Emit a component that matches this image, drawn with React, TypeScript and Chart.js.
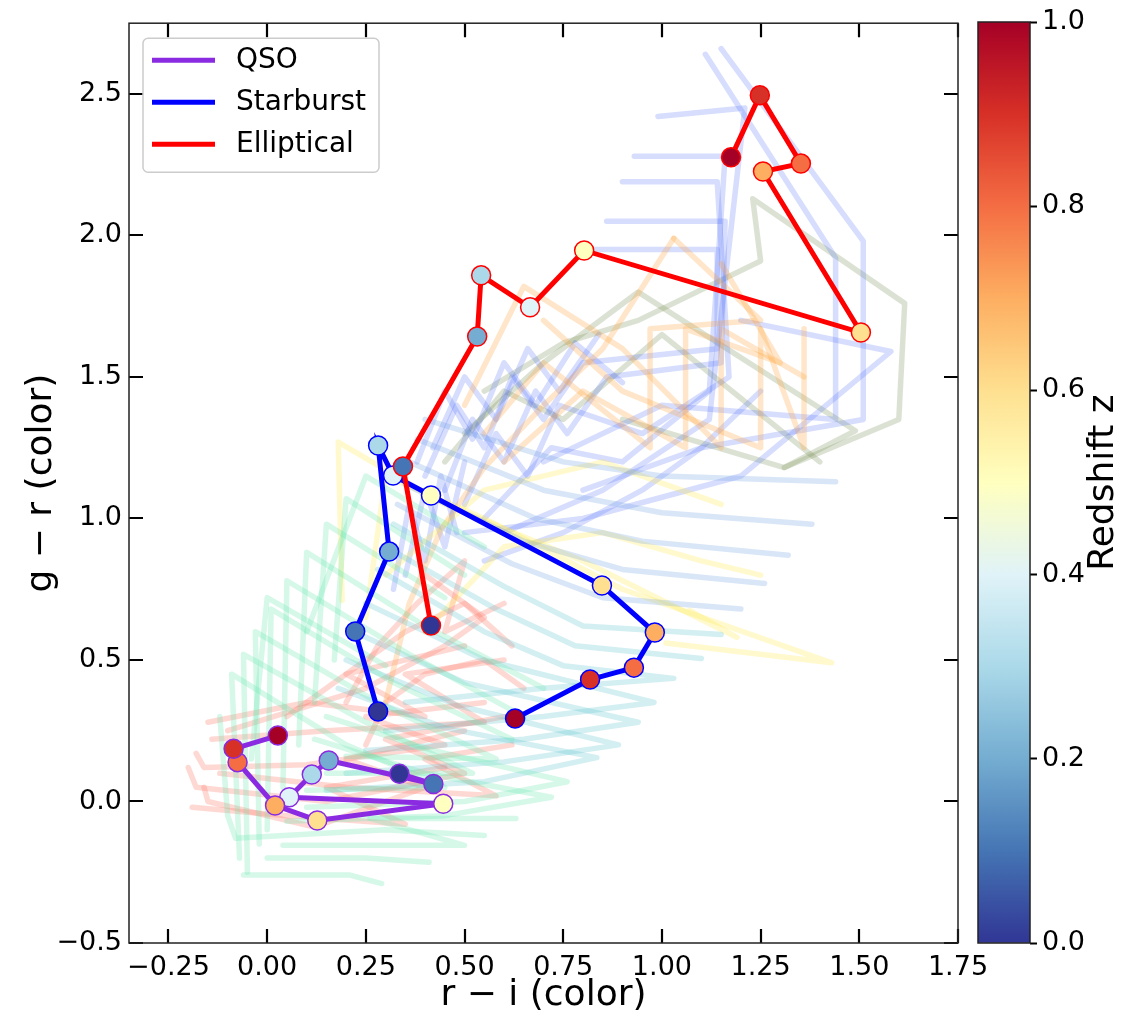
import React, { useEffect, useRef } from 'react';
import { Chart, registerables } from 'chart.js';

Chart.register(...registerables);

// ---------- data ----------
const redshift = [0, 0.1, 0.2, 0.3, 0.4, 0.5, 0.6, 0.7, 0.8, 0.9, 1.0];

const qsoX = [0.335, 0.421, 0.156, 0.113, 0.056, 0.446, 0.127, 0.02, -0.075, -0.085, 0.027];
const qsoY = [0.098, 0.062, 0.145, 0.095, 0.015, -0.008, -0.067, -0.014, 0.139, 0.186, 0.233];

const starX = [0.281, 0.223, 0.309, 0.281, 0.319, 0.415, 0.848, 0.982, 0.929, 0.818, 0.628];
const starY = [0.318, 0.601, 0.883, 1.258, 1.152, 1.081, 0.763, 0.597, 0.473, 0.431, 0.293];

const ellX = [0.415, 0.344, 0.532, 0.542, 0.666, 0.803, 1.504, 1.256, 1.352, 1.248, 1.175];
const ellY = [0.622, 1.184, 1.643, 1.859, 1.746, 1.947, 1.657, 2.226, 2.254, 2.495, 2.276];

const seriesNames = ['QSO', 'Starburst', 'Elliptical'];

const xTicks = [-0.25, 0, 0.25, 0.5, 0.75, 1.0, 1.25, 1.5, 1.75];
const yTicks = [-0.5, 0, 0.5, 1.0, 1.5, 2.0, 2.5];
const cbTicks = [0, 0.2, 0.4, 0.6, 0.8, 1.0];

// faint background tracks (r-i, g-r)
const bgMint: number[][][] = [
  [[-0.07, -0.2], [-0.09, 0.45], [0.2, 0.2], [0.45, 0.05], [0.1, 0.04]],
  [[-0.05, -0.25], [-0.06, 0.52], [0.25, 0.28], [0.52, 0.1], [0.15, 0.1]],
  [[-0.02, -0.15], [-0.03, 0.6], [0.28, 0.35], [0.58, 0.15], [0.2, 0.16]],
  [[0.0, -0.1], [0.01, 0.68], [0.32, 0.42], [0.62, 0.22]],
  [[0.04, 0.05], [0.05, 0.78], [0.36, 0.52], [0.65, 0.3]],
  [[0.08, 0.2], [0.1, 0.88], [0.4, 0.62], [0.7, 0.4]],
  [[0.12, 0.35], [0.15, 0.98], [0.45, 0.72]],
  [[0.17, 0.5], [0.2, 1.07], [0.5, 0.8]],
  [[0.1, 0.6], [0.25, 1.15], [0.55, 0.9]],
  [[-0.04, 0.15], [0.0, 0.72], [0.3, 0.48]],
  [[-0.06, -0.26], [0.21, -0.26], [0.29, -0.29]],
  [[0.0, -0.2], [0.25, -0.2], [0.41, -0.215]],
  [[0.04, -0.155], [0.5, -0.155], [0.26, -0.06], [0.63, -0.06]],
  [[-0.12, 0.3], [-0.1, -0.05], [-0.08, -0.13], [0.3, -0.1], [0.55, -0.12]],
  [[0.12, 0.22], [0.4, 0.1], [0.72, 0.015], [0.45, -0.05], [0.05, -0.07]],
  [[0.15, 0.3], [0.42, 0.18], [0.76, 0.07], [0.5, 0.0], [0.1, -0.02]],
];
const bgTeal: number[][][] = [
  [[0.32, 0.98], [0.6, 0.76], [0.8, 0.62], [1.15, 0.59]],
  [[0.3, 0.9], [0.58, 0.68], [0.78, 0.55], [1.1, 0.505]],
  [[0.28, 0.82], [0.55, 0.6], [0.75, 0.48], [1.03, 0.435], [0.7, 0.4], [0.35, 0.35]],
  [[0.25, 0.7], [0.55, 0.5], [0.98, 0.35], [0.7, 0.3], [0.3, 0.25]],
  [[0.22, 0.6], [0.5, 0.42], [0.94, 0.28], [0.65, 0.22], [0.25, 0.18]],
  [[0.2, 0.5], [0.48, 0.34], [0.89, 0.2], [0.6, 0.14], [0.2, 0.1]],
  [[0.18, 0.4], [0.45, 0.26], [0.835, 0.155], [0.55, 0.07], [0.15, 0.04]],
];
const bgLightBlue: number[][][] = [
  [[0.4, 1.35], [0.75, 1.2], [1.0, 1.15], [1.44, 1.13]],
  [[0.38, 1.28], [0.7, 1.1], [1.0, 1.02], [1.38, 0.98]],
  [[0.36, 1.2], [0.68, 1.0], [0.95, 0.92], [1.32, 0.87]],
  [[0.35, 1.12], [0.65, 0.92], [0.9, 0.82], [1.26, 0.77]],
  [[0.33, 1.05], [0.62, 0.84], [0.85, 0.72], [1.2, 0.68]],
];
const bgYellow: number[][][] = [
  [[0.19, 0.71], [0.18, 1.27], [0.45, 1.05], [0.8, 0.85], [1.19, 0.58], [1.07, 0.675]],
  [[0.25, 0.65], [0.3, 1.15], [0.55, 1.0], [0.9, 0.75], [1.43, 0.49], [1.01, 0.56]],
  [[0.4, 0.6], [0.6, 0.9], [0.85, 0.95], [1.1, 0.85], [1.25, 0.8]],
  [[0.3, 0.8], [0.55, 1.1], [0.85, 1.2], [1.15, 1.05]],
];
const bgOrange: number[][][] = [
  [[0.3, 0.35], [0.36, 0.7], [0.44, 0.96], [0.55, 1.18], [0.7, 1.4], [0.85, 1.6], [1.03, 1.99]],
  [[0.55, 1.3], [0.7, 1.55], [0.97, 1.25], [0.97, 1.67], [1.25, 1.7], [1.03, 1.99]],
  [[0.6, 1.2], [0.8, 1.45], [1.06, 1.25], [1.06, 1.67], [1.3, 1.55], [1.15, 1.9]],
  [[0.5, 1.4], [0.65, 1.82], [0.9, 1.6], [1.15, 1.25], [1.15, 1.67], [1.36, 1.5]],
  [[0.7, 1.7], [0.9, 1.45], [1.25, 1.25], [1.25, 1.67], [1.36, 1.25], [1.36, 1.67]],
];
const bgSalmon: number[][][] = [
  [[-0.18, 0.17], [-0.16, 0.12], [0.1, 0.13], [0.45, 0.2], [0.25, 0.3], [0.55, 0.35]],
  [[-0.16, 0.05], [-0.15, 0.0], [0.12, -0.09], [0.4, 0.05], [0.2, 0.15], [0.5, 0.25]],
  [[-0.14, 0.22], [0.15, 0.25], [0.55, 0.28], [0.35, 0.45], [0.6, 0.5]],
  [[-0.12, 0.1], [0.2, 0.05], [0.58, 0.02], [0.4, 0.15], [0.62, 0.2]],
  [[-0.1, 0.25], [0.25, 0.4], [0.45, 0.55], [0.55, 0.65], [0.4, 0.8]],
  [[0.25, 0.2], [0.3, 0.35], [0.4, 0.45], [0.55, 0.5], [0.65, 0.4]],
  [[0.05, 0.3], [0.35, 0.6], [0.5, 0.7], [0.62, 0.55]],
  [[-0.2, 0.12], [-0.18, 0.05], [0.15, 0.0], [0.5, 0.1], [0.3, 0.22], [0.6, 0.3]],
  [[-0.15, 0.28], [0.1, 0.35], [0.4, 0.3], [0.2, 0.45], [0.5, 0.55]],
  [[-0.19, -0.02], [0.05, -0.05], [0.35, -0.08], [0.15, 0.05], [0.45, 0.12]],
  [[0.2, 0.35], [0.28, 0.55], [0.38, 0.7], [0.5, 0.85], [0.45, 0.6], [0.6, 0.7]],
];
const bgBlue: number[][][] = [
  [[0.4, 1.15], [0.48, 1.4], [0.55, 1.25], [0.62, 1.5], [0.7, 1.35], [0.8, 1.55], [1.14, 1.6], [1.14, 1.95], [0.83, 1.95]],
  [[0.45, 1.1], [0.52, 1.35], [0.6, 1.2], [0.68, 1.45], [0.76, 1.3], [0.86, 1.5], [1.15, 1.55], [1.16, 2.05], [0.86, 2.05]],
  [[0.5, 1.05], [0.58, 1.3], [0.66, 1.15], [0.74, 1.4], [0.95, 1.3], [1.17, 1.5], [1.14, 2.19], [0.9, 2.19]],
  [[0.55, 1.0], [0.72, 1.25], [0.9, 1.2], [1.12, 1.45], [1.16, 2.28], [0.93, 2.28]],
  [[0.6, 0.95], [0.85, 1.1], [1.12, 1.35], [1.21, 2.45], [0.99, 2.42]],
  [[0.7, 1.2], [1.0, 1.4], [1.44, 1.35], [1.44, 1.92], [1.11, 2.64]],
  [[0.8, 1.1], [1.1, 1.25], [1.51, 1.35], [1.51, 1.98], [1.15, 2.66]],
  [[0.5, 0.95], [0.8, 1.0], [1.2, 1.15], [1.58, 1.59], [1.2, 1.7]],
  [[0.55, 0.85], [0.75, 0.95], [0.95, 1.1], [1.1, 1.25], [1.25, 1.45]],
  [[0.32, 0.75], [0.36, 1.05], [0.4, 0.85], [0.44, 1.15], [0.48, 0.95]],
  [[0.35, 0.8], [0.4, 1.1], [0.45, 0.9], [0.5, 1.2]],
  [[0.38, 1.2], [0.45, 1.45], [0.52, 1.28], [0.6, 1.55], [0.68, 1.4], [0.78, 1.62], [0.9, 1.48]],
  [[0.42, 1.25], [0.5, 1.5], [0.58, 1.35], [0.66, 1.6], [0.74, 1.45], [0.84, 1.65]],
];
const bgOlive: number[][][] = [
  [[0.55, 1.45], [0.75, 1.62], [0.94, 1.7], [1.25, 1.91], [1.23, 2.13], [1.615, 1.76], [1.6, 1.35], [1.31, 1.18]],
  [[0.5, 1.3], [0.7, 1.55], [0.94, 1.8], [1.49, 1.31], [1.31, 1.18], [0.9, 1.35]],
  [[0.45, 1.2], [0.6, 1.45], [0.75, 1.35], [1.0, 1.65], [1.4, 1.2]],
];

// ---------- styling ----------
const FONT = 'DejaVu Sans';
const RDYLBU_R = ['#313695', '#4575b4', '#74add1', '#abd9e9', '#e0f3f8', '#ffffbf', '#fee090', '#fdae61', '#f46d43', '#d73027', '#a50026'];

function hexToRgb(h: string) {
  return [parseInt(h.slice(1, 3), 16), parseInt(h.slice(3, 5), 16), parseInt(h.slice(5, 7), 16)];
}
function cmap(z: number) {
  const t = Math.max(0, Math.min(1, z)) * 10;
  const i = Math.min(9, Math.floor(t));
  const f = t - i;
  const a = hexToRgb(RDYLBU_R[i]);
  const b = hexToRgb(RDYLBU_R[i + 1]);
  const c = a.map((v, k) => Math.round(v + (b[k] - v) * f));
  return `rgb(${c[0]},${c[1]},${c[2]})`;
}

const lineColors = ['#8a2be2', '#0000ff', '#ff0000'];

const fmtNum = (v: number, d: number) => (v < 0 ? '\u2212' : '') + Math.abs(v).toFixed(d);

function mainSeries(name: string, xs: number[], ys: number[], color: string, order: number) {
  return {
    label: name,
    data: xs.map((x, i) => ({ x, y: ys[i] })),
    showLine: true,
    borderColor: color,
    backgroundColor: color,
    borderWidth: 5,
    pointRadius: 9.5,
    pointHoverRadius: 9.5,
    pointBackgroundColor: redshift.map(cmap),
    pointBorderColor: color,
    pointBorderWidth: 1.5,
    order,
  };
}

function bgSeries(tracks: number[][][], color: string) {
  return tracks.map((t) => ({
    label: '',
    data: t.map((p) => ({ x: p[0], y: p[1] })),
    showLine: true,
    borderColor: color,
    borderWidth: 5.5,
    pointRadius: 0,
    pointHoverRadius: 0,
    borderCapStyle: 'round',
    borderJoinStyle: 'round',
    order: 10,
  }));
}

const framePlugin = {
  id: 'frameTicks',
  afterDraw(chart: any) {
    const { ctx, chartArea } = chart;
    const { left, right, top, bottom } = chartArea;
    const xs = chart.scales.x;
    const ys = chart.scales.y;
    ctx.save();
    ctx.strokeStyle = '#000';
    ctx.lineWidth = 2.2;
    const L = 14;
    ctx.beginPath();
    xTicks.forEach((v) => {
      const p = Math.round(xs.getPixelForValue(v));
      ctx.moveTo(p, bottom);
      ctx.lineTo(p, bottom - L);
      ctx.moveTo(p, top);
      ctx.lineTo(p, top + L);
    });
    yTicks.forEach((v) => {
      const p = Math.round(ys.getPixelForValue(v));
      ctx.moveTo(left, p);
      ctx.lineTo(left + L, p);
      ctx.moveTo(right, p);
      ctx.lineTo(right - L, p);
    });
    ctx.stroke();
    ctx.lineWidth = 1.5;
    ctx.strokeStyle = '#222';
    ctx.strokeRect(left, top, right - left, bottom - top);

    // legend
    const bx = left + 14;
    const by = top + 15;
    const bw = 236;
    const bh = 134;
    ctx.beginPath();
    (ctx as any).roundRect(bx, by, bw, bh, 5);
    ctx.fillStyle = 'rgba(255,255,255,0.8)';
    ctx.fill();
    ctx.strokeStyle = '#cccccc';
    ctx.lineWidth = 1.5;
    ctx.stroke();
    ctx.font = `28px "${FONT}"`;
    ctx.textBaseline = 'middle';
    ctx.textAlign = 'left';
    seriesNames.forEach((name, i) => {
      const yy = by + 22 + i * 42;
      ctx.strokeStyle = lineColors[i];
      ctx.lineWidth = 5;
      ctx.beginPath();
      ctx.moveTo(bx + 9, yy);
      ctx.lineTo(bx + 72, yy);
      ctx.stroke();
      ctx.fillStyle = '#000';
      ctx.fillText(name, bx + 93, yy + 1);
    });
    ctx.restore();
  },
};

const cbPlugin = {
  id: 'cbFrame',
  afterDraw(chart: any) {
    const { ctx, chartArea } = chart;
    const { left, right, top, bottom } = chartArea;
    ctx.save();
    ctx.strokeStyle = '#222';
    ctx.lineWidth = 1.5;
    ctx.strokeRect(left, top, right - left, bottom - top);
    ctx.translate(144, (top + bottom) / 2);
    ctx.rotate(-Math.PI / 2);
    ctx.font = `36px "${FONT}"`;
    ctx.fillStyle = '#000';
    ctx.textAlign = 'center';
    ctx.textBaseline = 'middle';
    ctx.fillText('Redshift z', 0, 0);
    ctx.restore();
  },
};

export default function App() {
  const mainRef = useRef<HTMLCanvasElement>(null);
  const cbRef = useRef<HTMLCanvasElement>(null);

  useEffect(() => {
    Chart.defaults.font.family = FONT;
    const datasets: any[] = [
      mainSeries(seriesNames[2], ellX, ellY, lineColors[2], 0),
      mainSeries(seriesNames[1], starX, starY, lineColors[1], 1),
      mainSeries(seriesNames[0], qsoX, qsoY, lineColors[0], 2),
      ...bgSeries(bgMint, 'rgba(100,228,175,0.27)'),
      ...bgSeries(bgTeal, 'rgba(80,190,205,0.25)'),
      ...bgSeries(bgLightBlue, 'rgba(110,160,225,0.26)'),
      ...bgSeries(bgYellow, 'rgba(255,232,60,0.26)'),
      ...bgSeries(bgOrange, 'rgba(255,160,50,0.26)'),
      ...bgSeries(bgSalmon, 'rgba(250,110,90,0.26)'),
      ...bgSeries(bgBlue, 'rgba(70,100,245,0.22)'),
      ...bgSeries(bgOlive, 'rgba(110,135,70,0.24)'),
    ];

    const main = new Chart(mainRef.current as HTMLCanvasElement, {
      type: 'scatter',
      data: { datasets },
      options: {
        responsive: false,
        animation: false,
        devicePixelRatio: 1,
        events: [],
        layout: { padding: { left: 0, top: 22, right: 167, bottom: 0 } },
        plugins: { legend: { display: false }, tooltip: { enabled: false } },
        scales: {
          x: {
            type: 'linear',
            min: -0.35,
            max: 1.75,
            afterBuildTicks: (s: any) => {
              s.ticks = xTicks.map((v) => ({ value: v }));
            },
            afterFit: (s: any) => {
              s.height = 74;
            },
            grid: { display: false, drawTicks: false },
            border: { display: false },
            ticks: {
              autoSkip: false,
              maxRotation: 0,
              minRotation: 0,
              color: '#000',
              padding: 9,
              font: { family: FONT, size: 27 },
              callback: (v: any) => fmtNum(Number(v), 2),
            },
            title: {
              display: true,
              text: 'r \u2212 i (color)',
              color: '#000',
              font: { family: FONT, size: 36 },
              padding: { top: 0, bottom: 0 },
            },
          },
          y: {
            type: 'linear',
            min: -0.5,
            max: 2.75,
            afterBuildTicks: (s: any) => {
              s.ticks = yTicks.map((v) => ({ value: v }));
            },
            afterFit: (s: any) => {
              s.width = 129;
            },
            grid: { display: false, drawTicks: false },
            border: { display: false },
            ticks: {
              autoSkip: false,
              color: '#000',
              padding: 7,
              font: { family: FONT, size: 27 },
              callback: (v: any) => fmtNum(Number(v), 1),
            },
            title: {
              display: true,
              text: 'g \u2212 r (color)',
              color: '#000',
              font: { family: FONT, size: 36 },
              padding: { top: 20, bottom: 0 },
            },
          },
        },
      } as any,
      plugins: [framePlugin],
    });

    const cb = new Chart(cbRef.current as HTMLCanvasElement, {
      type: 'bar',
      data: {
        labels: [''],
        datasets: [
          {
            data: [[0, 1]] as any,
            backgroundColor: (c: any) => {
              const area = c.chart.chartArea;
              if (!area) return RDYLBU_R[5];
              const g = c.chart.ctx.createLinearGradient(0, area.bottom, 0, area.top);
              RDYLBU_R.forEach((col, i) => g.addColorStop(i / 10, col));
              return g;
            },
            borderWidth: 0,
            barPercentage: 1,
            categoryPercentage: 1,
          },
        ],
      },
      options: {
        responsive: false,
        animation: false,
        devicePixelRatio: 1,
        events: [],
        layout: { padding: { left: 18, top: 22, right: 0, bottom: 74 } },
        plugins: { legend: { display: false }, tooltip: { enabled: false } },
        scales: {
          x: { display: false },
          y: {
            position: 'right',
            min: 0,
            max: 1,
            afterBuildTicks: (s: any) => {
              s.ticks = cbTicks.map((v) => ({ value: v }));
            },
            afterFit: (s: any) => {
              s.width = 95;
            },
            grid: { drawOnChartArea: false, drawTicks: true, tickLength: 7, tickColor: '#000', tickWidth: 2 },
            border: { display: false },
            ticks: {
              color: '#000',
              padding: 5,
              font: { family: FONT, size: 27 },
              callback: (v: any) => Number(v).toFixed(1),
            },
          },
        },
      } as any,
      plugins: [cbPlugin],
    });

    return () => {
      main.destroy();
      cb.destroy();
    };
  }, []);

  return (
    <div style={{ position: 'absolute', left: 0, top: 0, width: 1125, height: 1017, background: '#fff' }}>
      <canvas
        ref={mainRef}
        width={1125}
        height={1017}
        style={{ position: 'absolute', left: 0, top: 0, width: 1125, height: 1017 }}
      />
      <canvas
        ref={cbRef}
        width={165}
        height={1017}
        style={{ position: 'absolute', left: 960, top: 0, width: 165, height: 1017 }}
      />
    </div>
  );
}
